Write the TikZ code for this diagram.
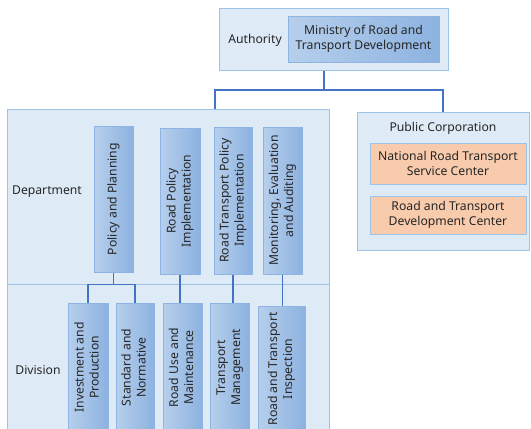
\documentclass[tikz,border=0pt]{standalone}
\usepackage{fontspec}
\setmainfont{Noto Sans}
\usetikzlibrary{calc}
\definecolor{outerfill}{HTML}{DEEAF6}
\definecolor{outerline}{HTML}{9DC3E6}
\definecolor{innerL}{HTML}{B6CFEC}
\definecolor{innerR}{HTML}{8DB2E0}
\definecolor{innerline}{HTML}{8EB4E3}
\definecolor{orangefill}{HTML}{F8CBAD}
\definecolor{connline}{HTML}{4472C4}
\begin{document}
\begin{tikzpicture}[x=1pt,y=-1pt,
  every node/.style={font=\fontsize{12.2}{15}\selectfont, inner sep=0pt, text=black!85},
  outerbox/.style={draw=outerline, fill=outerfill, line width=1pt},
  innerbox/.style={draw=innerline, left color=innerL, right color=innerR, line width=1pt, align=center},
  orangebox/.style={draw=outerline, fill=orangefill, line width=1pt, align=center},
  conn/.style={draw=connline, line width=1.2pt}]
\useasboundingbox (0,0) rectangle (531,429);
\begin{scope}
\clip (0,0) rectangle (531,429);
% outer groups
\node[outerbox, minimum width=229pt, minimum height=62pt] (auth) at (333.5,39) {};
\node[outerbox, minimum width=322pt, minimum height=175pt] (dept) at (168,196.5) {};
\node[outerbox, minimum width=322pt, minimum height=148pt] (div) at (168,358) {};
\node[outerbox, minimum width=172pt, minimum height=138pt] (pub) at (443,181) {};
% group labels
\node (authlbl) at (255,40) {Authority};
\node (deptlbl) at (47,192) {Department};
\node (divlbl) at (38,370) {Division};
\node (publbl) at (443,128) {Public Corporation};
% ministry
\node[innerbox, minimum width=151pt, minimum height=46pt] (min) at (363.5,39) {Ministry of Road and\\Transport Development};
% public corporations
\node[orangebox, minimum width=156pt, minimum height=41pt] (nrtsc) at (448,163.5) {National Road Transport\\Service Center};
\node[orangebox, minimum width=156pt, minimum height=38pt] (rtdc) at (448,215) {Road and Transport\\Development Center};
% departments
\node[innerbox, minimum width=39pt, minimum height=146pt] (pp) at (113.5,199) {\rotatebox{90}{Policy and Planning}};
\node[innerbox, minimum width=40pt, minimum height=146pt] (rpi) at (180,201) {\rotatebox{90}{\begin{tabular}{@{}c@{}}Road Policy\\Implementation\end{tabular}}};
\node[innerbox, minimum width=38pt, minimum height=147pt] (rtpi) at (233,200.5) {\rotatebox{90}{\begin{tabular}{@{}c@{}}Road Transport Policy\\Implementation\end{tabular}}};
\node[innerbox, minimum width=39pt, minimum height=147pt] (mea) at (282.5,200.5) {\rotatebox{90}{\begin{tabular}{@{}c@{}}Monitoring, Evaluation\\and Auditing\end{tabular}}};
% divisions
\node[innerbox, minimum width=40pt, minimum height=129pt] (inv) at (88,367.5) {\rotatebox{90}{\begin{tabular}{@{}c@{}}Investment and\\Production\end{tabular}}};
\node[innerbox, minimum width=38pt, minimum height=129pt] (std) at (135,367.5) {\rotatebox{90}{\begin{tabular}{@{}c@{}}Standard and\\Normative\end{tabular}}};
\node[innerbox, minimum width=39pt, minimum height=129pt] (rum) at (182.5,367.5) {\rotatebox{90}{\begin{tabular}{@{}c@{}}Road Use and\\Maintenance\end{tabular}}};
\node[innerbox, minimum width=39pt, minimum height=129pt] (tm) at (229.5,367.5) {\rotatebox{90}{\begin{tabular}{@{}c@{}}Transport\\Management\end{tabular}}};
\node[innerbox, minimum width=47pt, minimum height=126pt] (rti) at (281.5,369) {\rotatebox{90}{\begin{tabular}{@{}c@{}}Road and Transport\\Inspection\end{tabular}}};
\end{scope}
% connectors
\coordinate (j) at (324,90);
\coordinate (jl) at (215,90);
\coordinate (k) at (111,284.5);
\draw[conn] (auth.south -| j) -- (j);
\draw[conn] (dept.north -| jl) -- (jl) -- (pub.north |- jl) -- (pub.north);
\draw[conn] (pp.south) -- (pp.south |- k);
\draw[conn] (inv.north) -- (inv.north |- k) -- (std.north |- k) -- (std.north);
\draw[conn] (rpi.south) -- (rum.north -| rpi.south);
\draw[conn] (rtpi.south) -- (tm.north -| rtpi.south);
\draw[conn] (mea.south) -- (rti.north -| mea.south);
\end{tikzpicture}
\end{document}
